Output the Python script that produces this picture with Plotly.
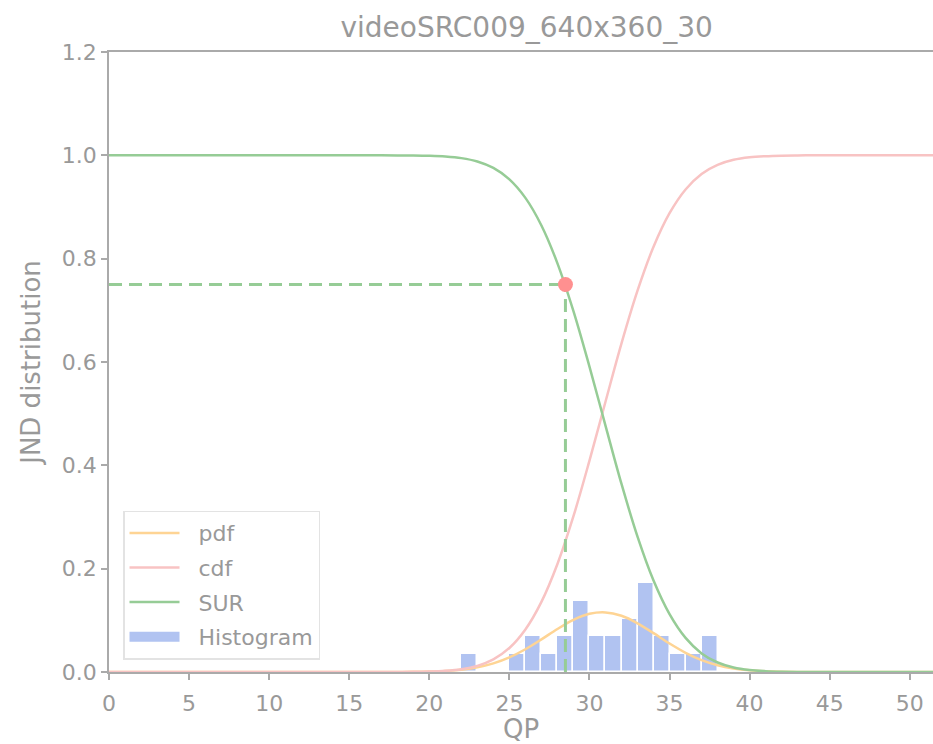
import plotly.graph_objects as go

# ---- data ----
qp = list(range(0, 53))
pdf_vals = [0.0] * 18 + [0.0001, 0.0003, 0.0009, 0.0021, 0.0045, 0.0090, 0.0166, 0.0282, 0.0440,
                         0.0631, 0.0833, 0.1010, 0.1126, 0.1154, 0.1088, 0.0943, 0.0752, 0.0551,
                         0.0372, 0.0230, 0.0131, 0.0069, 0.0033, 0.0015, 0.0006, 0.0002] + [0.0] * 9
cdf_vals = [0.0] * 18 + [0.0001, 0.0003, 0.0009, 0.0023, 0.0054, 0.0119, 0.0244, 0.0465, 0.0823,
                         0.1357, 0.2090, 0.3015, 0.4090, 0.5230, 0.6360, 0.7380, 0.8230, 0.8880,
                         0.9340, 0.9640, 0.9816, 0.9913, 0.9962, 0.9984, 0.9994, 0.9998] + [1.0] * 9
sur_vals = [1.0] * 18 + [0.9999, 0.9997, 0.9991, 0.9977, 0.9946, 0.9881, 0.9756, 0.9535, 0.9177,
                         0.8643, 0.7910, 0.6985, 0.5910, 0.4770, 0.3640, 0.2620, 0.1770, 0.1120,
                         0.0660, 0.0360, 0.0184, 0.0087, 0.0038, 0.0016, 0.0006, 0.0002] + [0.0] * 9

hist_bin_left = [22, 25, 26, 27, 28, 29, 30, 31, 32, 33, 34, 35, 36, 37]
hist_counts = [1, 1, 2, 1, 2, 4, 2, 2, 3, 5, 2, 1, 1, 2]
n_subjects = 29

jnd_qp = 28.5
jnd_level = 0.75

title_text = "videoSRC009_640x360_30"
legend_names = ["pdf", "cdf", "SUR", "Histogram"]
x_ticks = [0, 5, 10, 15, 20, 25, 30, 35, 40, 45, 50]
y_ticks = [0.0, 0.2, 0.4, 0.6, 0.8, 1.0, 1.2]

# ---- styles ----
c_pdf = "#FED494"
c_cdf = "#F8C3C3"
c_sur = "#96CC96"
c_hist = "#B1C3F1"
c_dot = "#FF9090"
c_text = "#999999"
c_axis = "#AAAAAA"
font_family = "DejaVu Sans"
pad = "\u00a0\u00a0"

hist_x = [b + 0.5 for b in hist_bin_left]
hist_y = [c / n_subjects for c in hist_counts]

fig = go.Figure()
fig.add_trace(go.Scatter(x=qp, y=pdf_vals, mode="lines", name=pad + legend_names[0], legendgroup="g1",
                         line=dict(color=c_pdf, width=2.5, shape="spline")))
fig.add_trace(go.Scatter(x=qp, y=cdf_vals, mode="lines", name=pad + legend_names[1], legendgroup="g2",
                         line=dict(color=c_cdf, width=2.5, shape="spline")))
fig.add_trace(go.Scatter(x=qp, y=sur_vals, mode="lines", name=pad + legend_names[2], legendgroup="g3",
                         line=dict(color=c_sur, width=2.5, shape="spline")))
fig.add_trace(go.Bar(x=hist_x, y=hist_y, width=1, name=legend_names[3], legendgroup="g4",
                     showlegend=False,
                     marker=dict(color=c_hist, line=dict(color="white", width=1.5))))
# legend swatch for the histogram (wide rectangle like the reference)
fig.add_trace(go.Scatter(x=[None], y=[None], mode="lines", name=pad + legend_names[3], legendgroup="g4",
                         line=dict(color=c_hist, width=15)))
# dashed guide lines
fig.add_trace(go.Scatter(x=[0, jnd_qp], y=[jnd_level, jnd_level], mode="lines", showlegend=False,
                         line=dict(color=c_sur, width=3, dash="13px,7px")))
fig.add_trace(go.Scatter(x=[jnd_qp, jnd_qp], y=[0, jnd_level], mode="lines", showlegend=False,
                         line=dict(color=c_sur, width=3, dash="13px,7px")))
fig.add_trace(go.Scatter(x=[jnd_qp], y=[jnd_level], mode="markers", showlegend=False,
                         marker=dict(color=c_dot, size=15)))

fig.update_layout(
    width=933, height=744,
    margin=dict(l=109, r=0, t=52, b=72),
    paper_bgcolor="white", plot_bgcolor="white",
    font=dict(family=font_family, size=22, color=c_text),
    title=dict(text=title_text, x=0.5645, xref="container", xanchor="center",
               y=1 - 27 / 744, yref="container", yanchor="middle",
               font=dict(size=28, color=c_text, family=font_family)),
    bargap=0,
    legend=dict(x=0.017, y=0.02, xanchor="left", yanchor="bottom",
                bgcolor="rgba(255,255,255,0.8)", bordercolor="#E3E3E3", borderwidth=1.5,
                font=dict(size=22, color=c_text), traceorder="grouped",
                tracegroupgap=3, itemwidth=50),
    xaxis=dict(range=[0, 51.45], tickvals=x_ticks, ticks="outside", ticklen=6,
               tickcolor=c_axis, tickwidth=1.5, showgrid=False, zeroline=False,
               showline=True, linecolor=c_axis, linewidth=1.5, mirror=True,
               ticklabelstandoff=5, automargin=False,
               title=dict(text="QP", standoff=15)),
    yaxis=dict(range=[0, 1.2], tickvals=y_ticks, tickformat=".1f", ticks="outside", ticklen=6,
               tickcolor=c_axis, tickwidth=1.5, showgrid=False, zeroline=False,
               showline=True, linecolor=c_axis, linewidth=1.5, automargin=False,
               title=dict(text="JND distribution", standoff=14)),
)

fig.write_html("out.html")
